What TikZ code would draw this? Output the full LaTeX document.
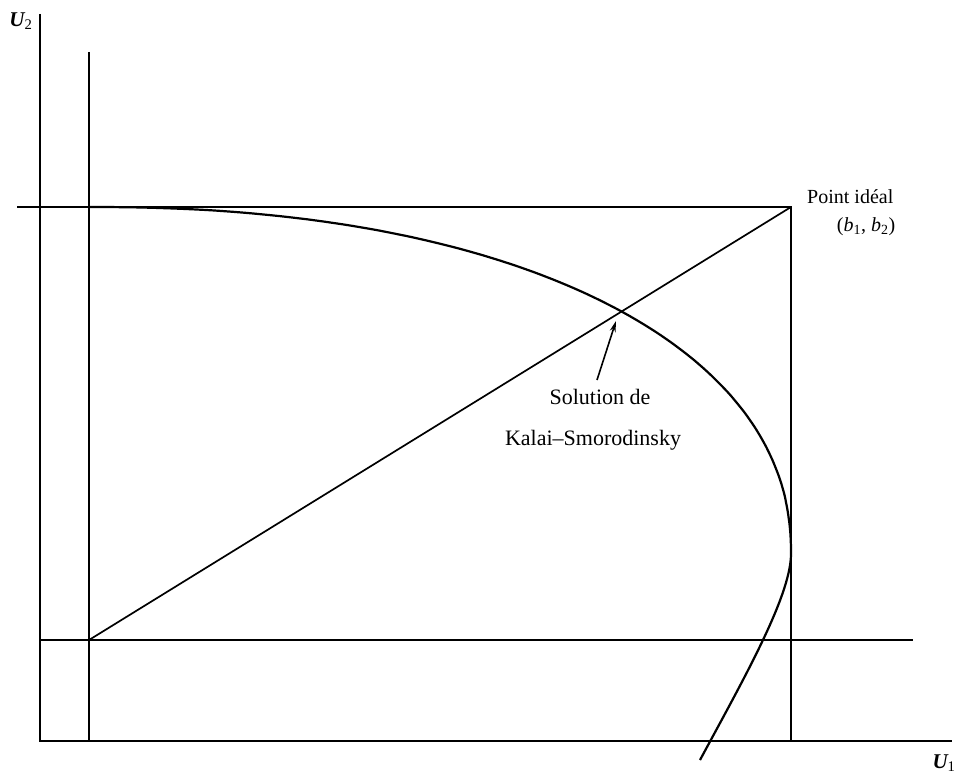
\documentclass[tikz,border=0pt]{standalone}
\usepackage{fontspec}
\setmainfont{Liberation Serif}
\usetikzlibrary{arrows.meta}
\begin{document}
\begin{tikzpicture}[x=1pt,y=-1pt,
  thinline/.style={line width=1.7pt},
  axisline/.style={line width=2.3pt},
  curveline/.style={line width=2.2pt},
  lbl/.style={inner sep=0pt, font=\fontsize{22}{26}\selectfont},
  axlbl/.style={inner sep=0pt, font=\fontsize{21}{24}\selectfont\bfseries\itshape}]
\useasboundingbox (0,0) rectangle (963,776);
% key points
\coordinate (Otop) at (40,14);
\coordinate (O) at (40,741);
\coordinate (Xend) at (952,741);
\coordinate (Dtop) at (89,52);
\coordinate (Dbot) at (89,741);
\coordinate (D) at (89,640);
\coordinate (Lleft) at (40,640);
\coordinate (Lright) at (913,640);
\coordinate (Tleft) at (17,207);
\coordinate (B) at (791,207);
\coordinate (Bbot) at (791,741);
\coordinate (K) at (617,313);
\coordinate (CurveTop) at (89,207);
\coordinate (CurveRight) at (791,555);
\coordinate (CurveEnd) at (700,760);
\coordinate (ArrTail) at (597,380);
\coordinate (ArrTip) at (616,321);
% axes
\draw[axisline] (Otop) -- (O) -- (Xend);
% threat point lines
\draw[thinline] (Dtop) -- (Dbot);
\draw[thinline] (Lleft) -- (Lright);
% ideal point lines
\draw[thinline] (Tleft) -- (B) -- (Bbot);
% diagonal
\draw[thinline] (D) -- (B);
% frontier
\draw[curveline, line join=round] (CurveTop) --
  plot[domain=0.3:89.7, samples=120] ({89+702*pow(sin(\x),0.909)}, {555-348*pow(cos(\x),0.909)})
  -- (CurveRight) .. controls (790,598) and (742,682) .. (CurveEnd);
% arrow
\draw[line width=1.6pt, -{Stealth[length=11pt,width=6pt]}] (ArrTail) -- (ArrTip);
% labels
\node[axlbl] (u2) at (21,21) {U\textsubscript{\mdseries\upshape 2}};
\node[axlbl] (u1) at (944,763) {U\textsubscript{\mdseries\upshape 1}};
\node[lbl, font=\fontsize{20}{24}\selectfont, anchor=base west] (pi) at (807,203) {Point idéal};
\node[lbl, font=\fontsize{20}{24}\selectfont] (bb) at (866,227) {({\itshape b}\textsubscript{1}, {\itshape b}\textsubscript{2})};
\node[lbl] (sol) at (600,397) {Solution de};
\node[lbl] (ks) at (593,440) {Kalai–Smorodinsky};
\end{tikzpicture}
\end{document}
